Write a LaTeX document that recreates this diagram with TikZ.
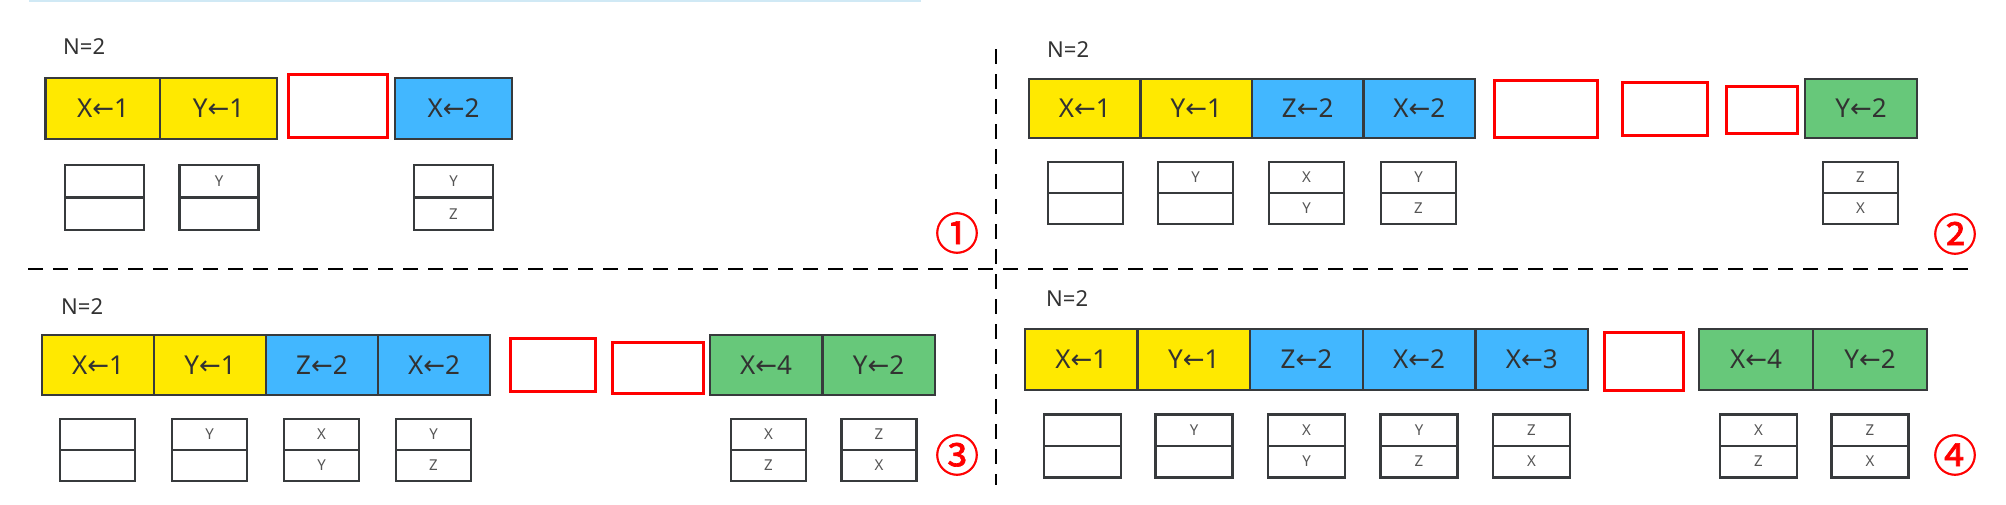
\documentclass[tikz,border=0pt]{standalone}
\usepackage{fontspec}
\setmainfont{Noto Sans}
\newfontfamily\arrowfont{DejaVu Sans}
\newfontfamily\circfont{Noto Sans CJK SC}[AutoFakeBold=1.5]
\newcommand{\myarr}{{\arrowfont ←}}
\newcommand{\halves}[7]{%
  \node[half,#5] (#1t) at (#2,#3) {#6};
  \node[half,#5] (#1b) at (#2,#4) {#7};}
\definecolor{cyel}{RGB}{255,233,0}
\definecolor{cblue}{RGB}{66,183,255}
\definecolor{cgreen}{RGB}{103,200,122}
\definecolor{cellgray}{RGB}{55,58,60}
\definecolor{textgray}{RGB}{50,50,50}
\definecolor{smallgray}{RGB}{85,85,85}
\definecolor{topline}{RGB}{208,233,245}
\definecolor{cred}{RGB}{255,0,0}
\begin{document}
\begin{tikzpicture}[x=1pt,y=-1pt,
  cell/.style={draw=cellgray, line width=2.5pt, inner sep=0pt, minimum height=60pt,
    text=textgray, font=\fontsize{26}{30}\selectfont},
  yel/.style={cell, fill=cyel},
  blu/.style={cell, fill=cblue},
  grn/.style={cell, fill=cgreen},
  hole/.style={draw=cred, line width=3pt, inner sep=0pt, fill=white},
  half/.style={draw=cellgray, line width=2.5pt, inner sep=0pt, minimum width=75pt,
    minimum height=31pt, font=\fontsize{15}{18}\selectfont, text=smallgray},
  nlabel/.style={anchor=west, inner sep=0pt, font=\fontsize{22}{26}\selectfont, text=textgray},
  circ/.style={text=cred, font=\circfont\bfseries\fontsize{44}{48}\selectfont, inner sep=0pt},
  sepline/.style={line width=2pt, dash pattern=on 15pt off 10pt}]
\useasboundingbox (0,0) rectangle (2006,504);
\fill[white] (0,0) rectangle (2006,504);
\draw[topline, line width=2pt] (29,1) -- (921,1);

% separators
\coordinate (vs) at (996,49);
\coordinate (ve) at (996,485);
\coordinate (hs) at (28,269);
\coordinate (he) at (1970,269);
\draw[sepline] (vs) -- (ve);
\draw[sepline] (hs) -- (he);

% ---------- panel 1 ----------
\node[nlabel] (n1) at (63,47) {N=2};
\node[yel, minimum width=115pt, minimum height=61pt] (p1a) at (103,108.5) {X\myarr 1};
\node[yel, minimum width=117pt, minimum height=61pt] (p1b) at (218.5,108.5) {Y\myarr 1};
\node[hole, minimum width=99pt, minimum height=63pt] (p1r) at (337.5,105.5) {};
\node[blu, minimum width=117pt, minimum height=61pt] (p1c) at (453.5,108.5) {X\myarr 2};
\halves{p1s1}{104.5}{181.25}{213.75}{minimum width=79pt, minimum height=32.5pt}{}{}
\halves{p1s2}{219}{181.25}{213.75}{minimum width=79pt, minimum height=32.5pt}{Y}{}
\halves{p1s3}{453.5}{181.25}{213.75}{minimum width=79pt, minimum height=32.5pt}{Y}{Z}
\node[circ] (c1) at (957,233) {①};

% ---------- panel 2 ----------
\node[nlabel] (n2) at (1047,50) {N=2};
\node[yel, minimum width=111.5pt, minimum height=59pt] (p2a) at (1084.75,108.5) {X\myarr 1};
\node[yel, minimum width=111.5pt, minimum height=59pt] (p2b) at (1196.25,108.5) {Y\myarr 1};
\node[blu, minimum width=111.5pt, minimum height=59pt] (p2c) at (1307.75,108.5) {Z\myarr 2};
\node[blu, minimum width=111.5pt, minimum height=59pt] (p2d) at (1419.25,108.5) {X\myarr 2};
\node[hole, minimum width=103pt, minimum height=57pt] (p2r1) at (1545.5,108.5) {};
\node[hole, minimum width=85pt, minimum height=53pt] (p2r2) at (1664.5,108.5) {};
\node[hole, minimum width=71pt, minimum height=47pt] (p2r3) at (1761.5,109.5) {};
\node[grn, minimum width=112pt, minimum height=59pt] (p2e) at (1861,108.5) {Y\myarr 2};
\halves{p2s1}{1085.5}{177.5}{208.5}{}{}{}
\halves{p2s2}{1195.5}{177.5}{208.5}{}{Y}{}
\halves{p2s3}{1306.5}{177.5}{208.5}{}{X}{Y}
\halves{p2s4}{1418.5}{177.5}{208.5}{}{Y}{Z}
\halves{p2s5}{1860.5}{177.5}{208.5}{}{Z}{X}
\node[circ] (c2) at (1955,234) {②};

% ---------- panel 3 ----------
\node[nlabel] (n3) at (61,307) {N=2};
\node[yel, minimum width=112pt] (p3a) at (98,365) {X\myarr 1};
\node[yel, minimum width=112pt] (p3b) at (210,365) {Y\myarr 1};
\node[blu, minimum width=112pt] (p3c) at (322,365) {Z\myarr 2};
\node[blu, minimum width=112pt] (p3d) at (434,365) {X\myarr 2};
\node[hole, minimum width=85pt, minimum height=53pt] (p3r1) at (552.5,364.5) {};
\node[hole, minimum width=91pt, minimum height=51pt] (p3r2) at (657.5,367.5) {};
\node[grn, minimum width=112.5pt] (p3e) at (766,365) {X\myarr 4};
\node[grn, minimum width=112.5pt] (p3f) at (878.5,365) {Y\myarr 2};
\halves{p3s1}{97.5}{434.5}{465.5}{}{}{}
\halves{p3s2}{209.5}{434.5}{465.5}{}{Y}{}
\halves{p3s3}{321.5}{434.5}{465.5}{}{X}{Y}
\halves{p3s4}{433.5}{434.5}{465.5}{}{Y}{Z}
\halves{p3s5}{768.5}{434.5}{465.5}{}{X}{Z}
\halves{p3s6}{879}{434.5}{465.5}{}{Z}{X}
\node[circ] (c3) at (957,455) {③};

% ---------- panel 4 ----------
\node[nlabel] (n4) at (1046,299) {N=2};
\node[yel, minimum width=112.6pt, minimum height=61pt] (p4a) at (1081.3,359.5) {X\myarr 1};
\node[yel, minimum width=112.6pt, minimum height=61pt] (p4b) at (1193.9,359.5) {Y\myarr 1};
\node[blu, minimum width=112.6pt, minimum height=61pt] (p4c) at (1306.5,359.5) {Z\myarr 2};
\node[blu, minimum width=112.6pt, minimum height=61pt] (p4d) at (1419.1,359.5) {X\myarr 2};
\node[blu, minimum width=112.6pt, minimum height=61pt] (p4e) at (1531.7,359.5) {X\myarr 3};
\node[hole, minimum width=79pt, minimum height=58pt] (p4r) at (1643.5,361) {};
\node[grn, minimum width=114pt, minimum height=61pt] (p4f) at (1756,359.5) {X\myarr 4};
\node[grn, minimum width=114pt, minimum height=61pt] (p4g) at (1870,359.5) {Y\myarr 2};
\halves{p4s1}{1082.5}{430}{461.5}{minimum width=77pt, minimum height=31.5pt}{}{}
\halves{p4s2}{1194}{430}{461.5}{minimum width=77pt, minimum height=31.5pt}{Y}{}
\halves{p4s3}{1306.5}{430}{461.5}{minimum width=77pt, minimum height=31.5pt}{X}{Y}
\halves{p4s4}{1419}{430}{461.5}{minimum width=77pt, minimum height=31.5pt}{Y}{Z}
\halves{p4s5}{1531.5}{430}{461.5}{minimum width=77pt, minimum height=31.5pt}{Z}{X}
\halves{p4s6}{1758.5}{430}{461.5}{minimum width=77pt, minimum height=31.5pt}{X}{Z}
\halves{p4s7}{1870}{430}{461.5}{minimum width=77pt, minimum height=31.5pt}{Z}{X}
\node[circ] (c4) at (1955,455) {④};
\end{tikzpicture}
\end{document}
